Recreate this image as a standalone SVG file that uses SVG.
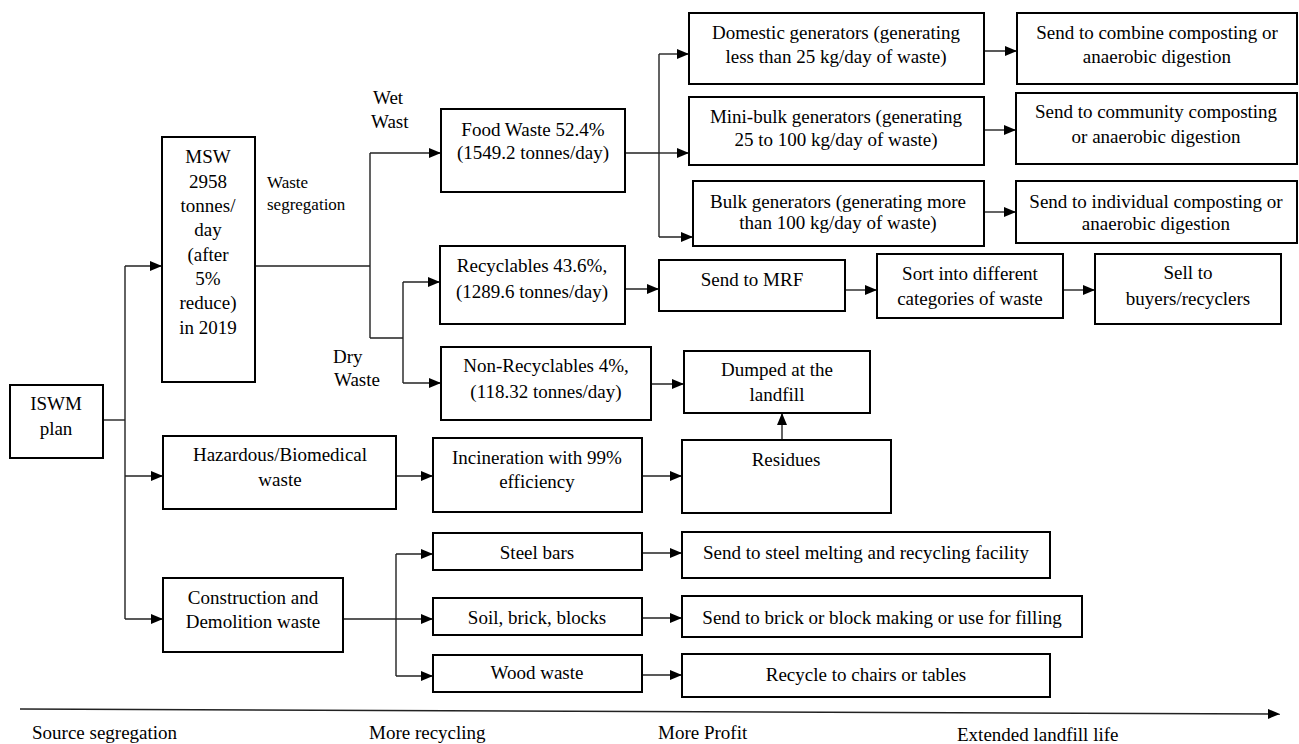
<svg xmlns="http://www.w3.org/2000/svg" width="1299" height="744" viewBox="0 0 1299 744">
<style>
  .box{fill:#fff;stroke:#000;stroke-width:2}
  text{font-family:'Liberation Serif','Times New Roman',Tinos,'Nimbus Roman','DejaVu Serif',serif;fill:#000}
  .t{font-size:19px;text-anchor:middle}
  .ts{font-size:17px}
  .tl{font-size:19px}
  .c{fill:none;stroke:#222;stroke-width:1.4}
  .ca{fill:none;stroke:#222;stroke-width:1.4;marker-end:url(#ah)}
</style>
<defs>
  <marker id="ah" markerUnits="userSpaceOnUse" markerWidth="13" markerHeight="11" refX="12" refY="5" orient="auto">
    <path d="M0,0 L12,5 L0,10 z" fill="#000"/>
  </marker>
</defs>
<rect width="1299" height="744" fill="#fff"/>

<g id="connectors">
  <path class="c" d="M103,420 H125"/>
  <path class="c" d="M125,266 V619"/>
  <path class="ca" d="M125,266 H162"/>
  <path class="ca" d="M125,476 H163"/>
  <path class="ca" d="M125,619 H163"/>
  <path class="c" d="M255,266 H370 M370,153 V338 M370,338 H403 M403,282 V383"/>
  <path class="ca" d="M370,153 H441"/>
  <path class="ca" d="M403,282 H440"/>
  <path class="ca" d="M403,383 H441"/>
  <path class="c" d="M625,153 H659 M659,54 V237"/>
  <path class="ca" d="M659,54 H689"/>
  <path class="ca" d="M659,153 H689"/>
  <path class="ca" d="M659,237 H693"/>
  <path class="ca" d="M984,51 H1017"/>
  <path class="ca" d="M984,130 H1016"/>
  <path class="ca" d="M984,212 H1016"/>
  <path class="ca" d="M625,289 H659"/>
  <path class="ca" d="M845,290 H877"/>
  <path class="ca" d="M1063,290 H1095"/>
  <path class="ca" d="M651,384 H684"/>
  <path class="ca" d="M782,440 V413"/>
  <path class="ca" d="M396,476 H433"/>
  <path class="ca" d="M642,476 H682"/>
  <path class="c" d="M343,619 H396 M396,554 V676"/>
  <path class="ca" d="M396,554 H433"/>
  <path class="ca" d="M396,619 H433"/>
  <path class="ca" d="M396,676 H433"/>
  <path class="ca" d="M642,553 H682"/>
  <path class="ca" d="M642,618 H682"/>
  <path class="ca" d="M642,675 H682"/>
  <path class="ca" d="M20,709 L1280,714"/>
</g>

<g id="iswm"><rect class="box" x="10" y="385" width="93" height="73"/>
  <text class="t" x="56" y="410">ISWM</text><text class="t" x="56" y="435">plan</text></g>

<g id="msw"><rect class="box" x="162" y="137" width="93" height="245"/>
  <text class="t" x="208" y="163">MSW</text>
  <text class="t" x="208" y="188">2958</text>
  <text class="t" x="208" y="212">tonnes/</text>
  <text class="t" x="208" y="236">day</text>
  <text class="t" x="208" y="261">(after</text>
  <text class="t" x="208" y="285">5%</text>
  <text class="t" x="208" y="309">reduce)</text>
  <text class="t" x="208" y="334">in 2019</text></g>

<g id="lbl-seg"><text class="ts" x="267" y="188">Waste</text><text class="ts" x="267" y="210">segregation</text></g>
<g id="lbl-wet"><text class="tl" x="373" y="104">Wet</text><text class="tl" x="371" y="128">Wast</text></g>
<g id="lbl-dry"><text class="tl" x="333" y="363">Dry</text><text class="tl" x="334" y="386">Waste</text></g>

<g id="food"><rect class="box" x="441" y="109" width="184" height="83"/>
  <text class="t" x="533" y="136">Food Waste 52.4%</text><text class="t" x="533" y="159">(1549.2 tonnes/day)</text></g>

<g id="domestic"><rect class="box" x="689" y="13" width="295" height="71"/>
  <text class="t" x="836" y="39">Domestic generators (generating</text><text class="t" x="836" y="63">less than 25 kg/day of waste)</text></g>
<g id="minibulk"><rect class="box" x="689" y="97" width="295" height="68"/>
  <text class="t" x="836" y="123">Mini-bulk generators (generating</text><text class="t" x="836" y="146">25 to 100 kg/day of waste)</text></g>
<g id="bulk"><rect class="box" x="693" y="181" width="291" height="65"/>
  <text class="t" x="838" y="208">Bulk generators (generating more</text><text class="t" x="838" y="229">than 100 kg/day of waste)</text></g>

<g id="combine"><rect class="box" x="1017" y="13" width="280" height="71"/>
  <text class="t" x="1157" y="39">Send to combine composting or</text><text class="t" x="1157" y="63">anaerobic digestion</text></g>
<g id="community"><rect class="box" x="1016" y="93" width="281" height="71"/>
  <text class="t" x="1156" y="118">Send to community composting</text><text class="t" x="1156" y="143">or anaerobic digestion</text></g>
<g id="individual"><rect class="box" x="1016" y="181" width="281" height="62"/>
  <text class="t" x="1156" y="208">Send to individual composting or</text><text class="t" x="1156" y="230">anaerobic digestion</text></g>

<g id="recyclables"><rect class="box" x="440" y="246" width="185" height="78"/>
  <text class="t" x="532" y="272">Recyclables 43.6%,</text><text class="t" x="532" y="298">(1289.6 tonnes/day)</text></g>
<g id="mrf"><rect class="box" x="659" y="260" width="186" height="51"/>
  <text class="t" x="752" y="286">Send to MRF</text></g>
<g id="sort"><rect class="box" x="877" y="254" width="186" height="64"/>
  <text class="t" x="970" y="280">Sort into different</text><text class="t" x="970" y="305">categories of waste</text></g>
<g id="sell"><rect class="box" x="1095" y="254" width="186" height="70"/>
  <text class="t" x="1188" y="279">Sell to</text><text class="t" x="1188" y="305">buyers/recyclers</text></g>

<g id="nonrecyclables"><rect class="box" x="441" y="347" width="210" height="73"/>
  <text class="t" x="546" y="372">Non-Recyclables 4%,</text><text class="t" x="546" y="398">(118.32 tonnes/day)</text></g>
<g id="landfill"><rect class="box" x="684" y="351" width="186" height="62"/>
  <text class="t" x="777" y="376">Dumped at the</text><text class="t" x="777" y="401">landfill</text></g>

<g id="hazardous"><rect class="box" x="163" y="436" width="233" height="73"/>
  <text class="t" x="280" y="461">Hazardous/Biomedical</text><text class="t" x="280" y="486">waste</text></g>
<g id="incineration"><rect class="box" x="433" y="438" width="209" height="74"/>
  <text class="t" x="537" y="464">Incineration with 99%</text><text class="t" x="537" y="488">efficiency</text></g>
<g id="residues"><rect class="box" x="682" y="440" width="209" height="73"/>
  <text class="t" x="786" y="466">Residues</text></g>

<g id="cd"><rect class="box" x="163" y="578" width="180" height="74"/>
  <text class="t" x="253" y="604">Construction and</text><text class="t" x="253" y="628">Demolition waste</text></g>
<g id="steel"><rect class="box" x="433" y="533" width="209" height="37"/>
  <text class="t" x="537" y="559">Steel bars</text></g>
<g id="soil"><rect class="box" x="433" y="598" width="209" height="37"/>
  <text class="t" x="537" y="624">Soil, brick, blocks</text></g>
<g id="wood"><rect class="box" x="433" y="655" width="209" height="37"/>
  <text class="t" x="537" y="679">Wood waste</text></g>
<g id="steelmelt"><rect class="box" x="682" y="532" width="368" height="46"/>
  <text class="t" x="866" y="559">Send to steel melting and recycling facility</text></g>
<g id="brick"><rect class="box" x="682" y="596" width="400" height="41"/>
  <text class="t" x="882" y="624">Send to brick or block making or use for filling</text></g>
<g id="chairs"><rect class="box" x="682" y="654" width="368" height="43"/>
  <text class="t" x="866" y="681">Recycle to chairs or tables</text></g>

<g id="axis-labels">
  <text class="tl" x="32" y="739">Source segregation</text>
  <text class="tl" x="369" y="739">More recycling</text>
  <text class="tl" x="658" y="739">More Profit</text>
  <text class="tl" x="957" y="741">Extended landfill life</text>
</g>
</svg>
